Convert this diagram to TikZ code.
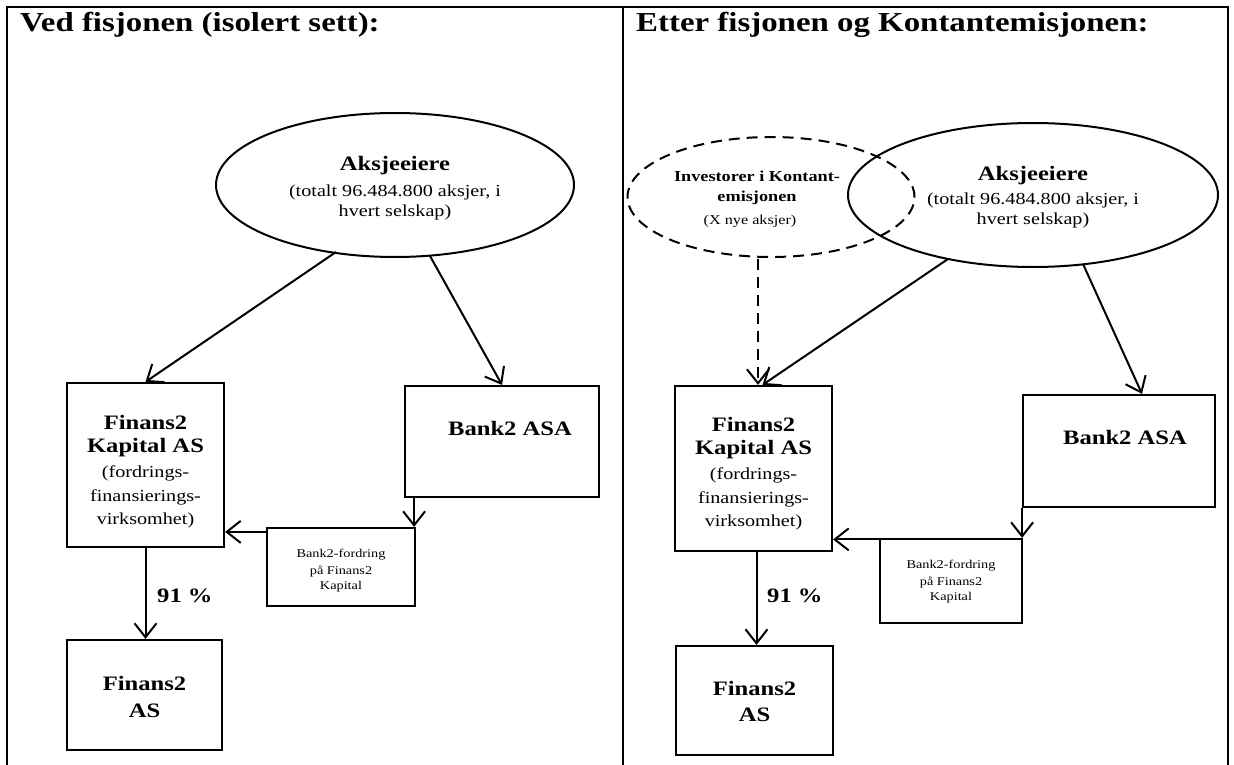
\documentclass[tikz,border=0pt]{standalone}
\usepackage{fontspec}
\setmainfont{Liberation Serif}[FakeStretch=1.2]
\usetikzlibrary{arrows.meta,shapes.geometric,calc}
\begin{document}
\begin{tikzpicture}[x=1pt,y=-1pt,
  box/.style={draw, line width=2.2pt, inner sep=0pt},
  oval/.style={draw, ellipse, line width=2pt, inner sep=0pt},
  arr/.style={line width=2pt, -{Straight Barb[length=14pt,width=22pt,line width=2pt]}},
  dsh/.style={dash pattern=on 11pt off 7pt},
  ttl/.style={font=\fontsize{27.4}{32}\selectfont\bfseries, anchor=west, inner sep=0pt},
  bt/.style={font=\fontsize{20.5}{24}\selectfont\bfseries, inner sep=0pt},
  rt/.style={font=\fontsize{16.8}{20}\selectfont, inner sep=0pt},
  dbt/.style={font=\fontsize{15.2}{18}\selectfont\bfseries, inner sep=0pt},
  drt/.style={font=\fontsize{13.5}{16}\selectfont, inner sep=0pt},
  st/.style={font=\fontsize{11.9}{14}\selectfont, inner sep=0pt},
  frame/.style={line width=2.5pt},
]
\useasboundingbox (0,0) rectangle (1234,765);
% frame
\draw[frame] (7,765) -- (7,7) -- (1228,7) -- (1228,765);
\draw[frame] (623,7) -- (623,765);
\node[ttl] (t1) at (20,25) {Ved fisjonen (isolert sett):};
\node[ttl] (t2) at (636,25) {Etter fisjonen og Kontantemisjonen:};

% ---------- left panel
\node[oval, minimum width=358pt, minimum height=144pt] (E1) at (395,185) {};
\node[bt] (E1a) at (395,166) {Aksjeeiere};
\node[rt] (E1b) at (395,192) {(totalt 96.484.800 aksjer, i};
\node[rt] (E1c) at (395,212) {hvert selskap)};

\node[box, minimum width=157pt, minimum height=164pt] (K1) at (145.5,465) {};
\node[bt] (K1a) at (145.5,422) {Finans2};
\node[bt] (K1b) at (145.5,448) {Kapital AS};
\node[rt] (K1c) at (145.5,473) {(fordrings-};
\node[rt] (K1d) at (145.5,497) {finansierings-};
\node[rt] (K1e) at (145.5,520) {virksomhet)};

\node[box, minimum width=194pt, minimum height=111pt] (B1) at (502,441.5) {};
\node[bt] (B1a) at (510,428) {Bank2 ASA};

\node[box, minimum width=148pt, minimum height=78pt] (S1) at (341,567) {};
\node[st] (S1a) at (341,555) {Bank2-fordring};
\node[st] (S1b) at (341,571) {på Finans2};
\node[st] (S1c) at (341,587) {Kapital};

\node[box, minimum width=155pt, minimum height=110pt] (F1) at (144.5,695) {};
\node[bt] (F1a) at (144.5,683) {Finans2};
\node[bt] (F1b) at (144.5,711) {AS};

\coordinate (e1l) at (336,252);
\coordinate (e1r) at (430,256);
\draw[arr] (e1l) -- (K1.north);
\draw[arr] (e1r) -- (B1.north);
\draw[arr] ([xshift=-2pt]S1.north east |- B1.south) -- ([xshift=-2pt]S1.north east);
\draw[arr] ([yshift=-5pt]S1.north west) -- ([yshift=-5pt]S1.north west -| K1.east);
\draw[arr] (K1.south) -- (K1.south |- F1.north);
\node[bt, anchor=west] (p1) at (157,596) {91 \%};

% ---------- right panel
\node[oval, dsh, minimum width=287pt, minimum height=120pt] (D) at (771,197) {};
\node[dbt] (Da) at (757,176) {Investorer i Kontant-};
\node[dbt] (Db) at (757,198) {emisjonen};
\node[drt] (Dc) at (750,221) {(X nye aksjer)};

\node[oval, minimum width=370pt, minimum height=144pt] (E2) at (1033,195) {};
\node[bt] (E2a) at (1033,176) {Aksjeeiere};
\node[rt] (E2b) at (1033,200) {(totalt 96.484.800 aksjer, i};
\node[rt] (E2c) at (1033,220) {hvert selskap)};

\node[box, minimum width=157pt, minimum height=165pt] (K2) at (753.5,468.5) {};
\node[bt] (K2a) at (753.5,424) {Finans2};
\node[bt] (K2b) at (753.5,450) {Kapital AS};
\node[rt] (K2c) at (753.5,475) {(fordrings-};
\node[rt] (K2d) at (753.5,499) {finansierings-};
\node[rt] (K2e) at (753.5,522) {virksomhet)};

\node[box, minimum width=192pt, minimum height=112pt] (B2) at (1119,451) {};
\node[bt] (B2a) at (1125,437) {Bank2 ASA};

\node[box, minimum width=142pt, minimum height=84pt] (S2) at (951,581) {};
\node[st] (S2a) at (951,566) {Bank2-fordring};
\node[st] (S2b) at (951,582) {på Finans2};
\node[st] (S2c) at (951,598) {Kapital};

\node[box, minimum width=157pt, minimum height=109pt] (F2) at (754.5,700.5) {};
\node[bt] (F2a) at (754.5,688) {Finans2};
\node[bt] (F2b) at (754.5,715) {AS};

\coordinate (dl) at (758,259);
\coordinate (e2l) at (948,259);
\coordinate (e2r) at (1083,264);
\draw[arr, dsh] (dl) -- (dl |- K2.north);
\draw[arr] (e2l) -- ([xshift=9pt]K2.north);
\draw[arr] (e2r) -- ([xshift=23pt]B2.north);
\draw[arr] ([xshift=-1pt]S2.north east |- B2.south) -- ([xshift=-1pt]S2.north east);
\draw[arr] ([yshift=-1.5pt]S2.north west) -- ([yshift=-1.5pt]S2.north west -| K2.east);
\draw[arr] ([xshift=3pt]K2.south) -- ([xshift=3pt]K2.south |- F2.north);
\node[bt, anchor=west] (p2) at (767,596) {91 \%};
\end{tikzpicture}
\end{document}
